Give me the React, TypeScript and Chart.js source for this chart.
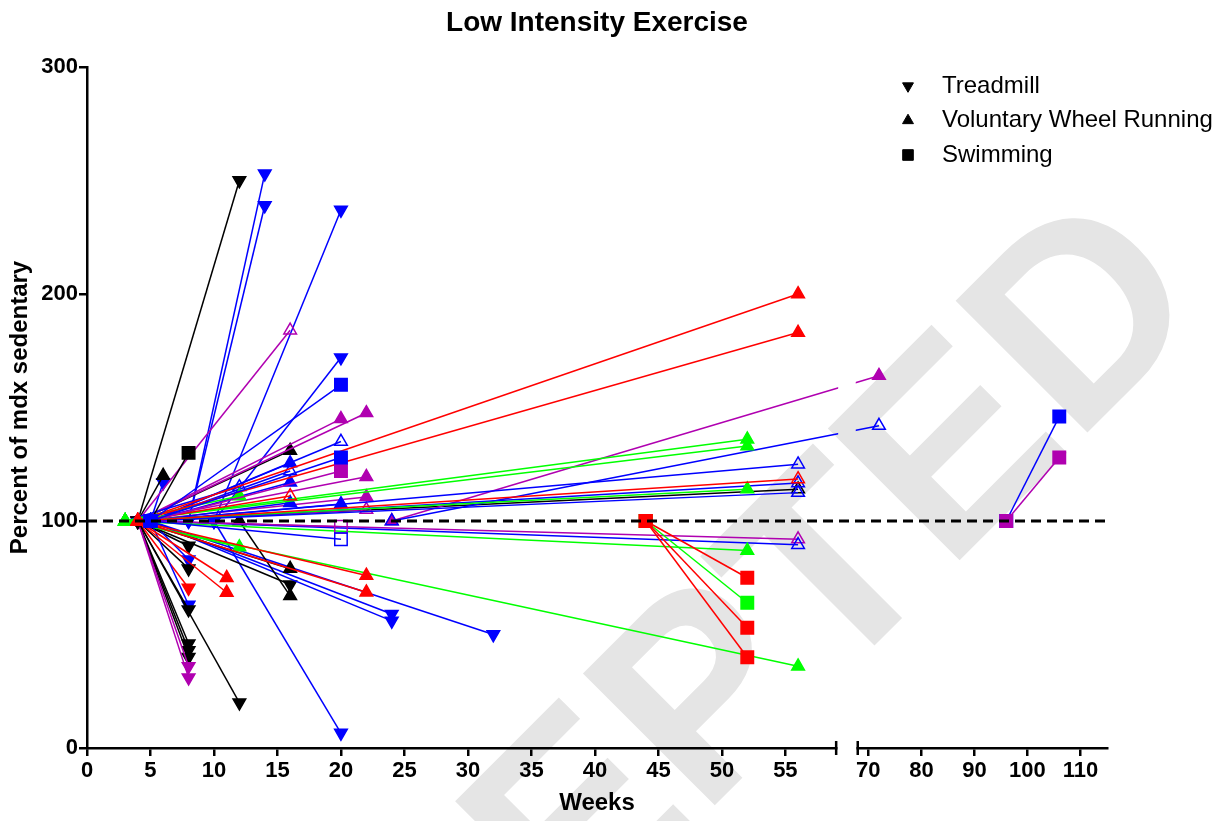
import React, { useEffect, useRef } from "react";
import { Chart, registerables } from "chart.js";
import { drawPoint } from "chart.js/helpers";

Chart.register(...registerables);

// ---------------- DATA ----------------
const chartTitle = "Low Intensity Exercise";
const xTitle = "Weeks";
const yTitle = "Percent of mdx sedentary";
const watermarkText = "ACCEPTED";
const legendLabels = ["Treadmill", "Voluntary Wheel Running", "Swimming"];

const xTickWeeks = [0, 5, 10, 15, 20, 25, 30, 35, 40, 45, 50, 55, 70, 80, 90, 100, 110];
const yTicks = [0, 100, 200, 300];
const baselinePercent = 100;

// study groups: K, B, R, G, M (colour-coded studies)
// Treadmill (down triangles)
const treadmillWeeks = [
  [4, 12], [8, 14], [8, 14], [10, 20], [10, 20], [10, 20], [5, 6], [4, 8],
  [5, 8], [4, 8], [4, 8], [5, 8], [4, 8], [4, 8], [4, 8], [4, 8],
  [4, 8], [4, 8], [4, 12], [4, 16], [5, 24], [5, 24], [5, 32],
];
const treadmillPercent = [
  [100, 250], [100, 253], [100, 239], [100, 237], [100, 172], [100, 6.6], [100, 117], [100, 89],
  [100, 83], [100, 79], [100, 70.5], [100, 63], [100, 61], [100, 46], [100, 43], [100, 40],
  [100, 36], [100, 31], [100, 20], [100, 72], [100, 59], [100, 56], [100, 50],
];
const treadmillStudy = [
  "K", "B", "B", "B", "B", "B", "B", "K",
  "B", "K", "R", "B", "K", "K", "K", "K",
  "M", "M", "K", "K", "B", "B", "B",
];
const treadmillOpen = treadmillStudy.map(() => false);

// Voluntary wheel running (up triangles)
const wheelWeeks = [
  [4, 6], [4, 16], [4, 16], [12, 16], [4, 56], [4, 56], [4, 11], [4, 11],
  [4, 22], [4, 22], [3, 52], [3, 52], [3, 52], [3, 52], [3, 56], [3, 12],
  [3, 12], [4, 22], [4, 20], [4, 22], [4, 22], [24, 72], [5, 20], [5, 16],
  [5, 16], [5, 16],
  [4, 16], [5, 16], [4, 16], [3, 12], [5, 20], [4, 22], [5, 56], [4, 56],
  [5, 56], [4, 56], [5, 56], [4, 56], [5, 56], [24, 72],
];
const wheelPercent = [
  [100, 120], [100, 131], [100, 79], [100, 67], [100, 200], [100, 183], [100, 75], [100, 68.5],
  [100, 76], [100, 68.6], [100, 136], [100, 133], [100, 114], [100, 87], [100, 36], [100, 111],
  [100, 88.5], [100, 147.6], [100, 145], [100, 119.5], [100, 110.6], [100, 164], [100, 107.5], [100, 125.5],
  [100, 117], [100, 108],
  [100, 184], [100, 122], [100, 111], [100, 115], [100, 135], [100, 105], [100, 125], [100, 118.5],
  [100, 116.7], [100, 114], [100, 112.5], [100, 92], [100, 89.5], [100, 142],
];
const wheelStudy = [
  "K", "K", "K", "K", "R", "R", "R", "R",
  "R", "R", "G", "G", "G", "G", "G", "G",
  "G", "M", "M", "M", "M", "M", "B", "B",
  "B", "B",
  "M", "B", "R", "B", "B", "M", "B", "R",
  "B", "K", "B", "M", "B", "B",
];
const wheelOpen = [
  false, false, false, false, false, false, false, false,
  false, false, false, false, false, false, false, false,
  false, false, false, false, false, false, false, false,
  false, false,
  true, true, true, true, true, true, true, true,
  true, true, true, true, true, true,
];

// Swimming (squares)
const swimWeeks = [
  [5, 8], [5, 20], [5, 20], [5, 20], [5, 20], [5, 20],
  [44, 52], [44, 52], [44, 52], [44, 52], [96, 106], [96, 106],
];
const swimPercent = [
  [100, 130], [100, 122], [100, 97.5], [100, 160], [100, 128], [100, 92],
  [100, 75], [100, 64], [100, 53], [100, 40], [100, 146], [100, 128],
];
const swimStudy = ["K", "M", "M", "B", "B", "B", "R", "G", "R", "R", "B", "M"];
const swimOpen = [false, false, true, false, false, true, false, false, false, false, false, false];

// ---------------- STYLE / AXIS BREAK ----------------
const studyColors: Record<string, string> = {
  K: "#000000",
  B: "#0000ff",
  R: "#ff0000",
  G: "#00ff00",
  M: "#b000b0",
};
// stacking order for the wheel-running markers (higher = drawn later / on top)
const wheelLayer: Record<string, number> = { K: 0, M: 1, B: 2, G: 3, R: 4 };
const FONT = '"Liberation Sans", Arial, Helvetica, sans-serif';

const SEG1_END = 59;
const SEG2_START = 68;
const SEG2_END = 115;
const GAP = 1.7;
const SEG2_RATIO = 5.3 / 12.69;
function toAxis(w: number) {
  if (w <= SEG1_END) return w;
  return SEG1_END + GAP + (w - SEG2_START) * SEG2_RATIO;
}

function buildSets(
  weeks: number[][],
  percent: number[][],
  study: string[],
  open: boolean[],
  pointStyle: string,
  rotation: number,
  radius: number,
  name: string
) {
  return weeks.map((ws, i) => {
    const c = studyColors[study[i]];
    return {
      label: name + " " + (i + 1),
      study: study[i],
      data: ws.map((w, j) => ({ x: toAxis(w), y: percent[i][j] })),
      showLine: true,
      borderColor: c,
      backgroundColor: c,
      borderWidth: 1.5,
      pointStyle,
      pointRotation: rotation,
      pointRadius: radius,
      pointBorderColor: c,
      pointBorderWidth: 1.5,
      pointBackgroundColor: open[i] ? "rgba(255,255,255,0)" : c,
      tension: 0,
    };
  });
}

const legendMarkers = [
  { style: "triangle", rotation: 180, radius: 6.3 },
  { style: "triangle", rotation: 0, radius: 6.3 },
  { style: "rect", rotation: 0, radius: 7.5 },
];

const breakPlugin = {
  id: "brokenAxis",
  beforeDraw(chart: any) {
    const { ctx } = chart;
    ctx.save();
    ctx.translate(686, 834);
    ctx.rotate(-Math.PI / 4);
    ctx.font = "bold 271px " + FONT;
    ctx.fillStyle = "#e5e5e5";
    ctx.textAlign = "center";
    ctx.textBaseline = "alphabetic";
    ctx.fillText(watermarkText, 0, 0);
    ctx.restore();
  },
  beforeDatasetDraw(chart: any, args: any) {
    const ds = chart.data.datasets[args.index];
    if (ds.label === "reference") return;
    const { ctx, chartArea } = chart;
    const xs = chart.scales.x;
    const x1 = xs.getPixelForValue(SEG1_END);
    const x2 = xs.getPixelForValue(SEG1_END + GAP);
    ctx.save();
    ctx.beginPath();
    ctx.rect(chartArea.left - 30, chartArea.top - 30, x1 + 2 - (chartArea.left - 30), chartArea.bottom - chartArea.top + 60);
    ctx.rect(x2 - 2, chartArea.top - 30, chartArea.right + 30 - (x2 - 2), chartArea.bottom - chartArea.top + 60);
    ctx.clip();
  },
  afterDatasetDraw(chart: any, args: any) {
    const ds = chart.data.datasets[args.index];
    if (ds.label === "reference") return;
    chart.ctx.restore();
  },
  afterDraw(chart: any) {
    const { ctx, chartArea } = chart;
    const xs = chart.scales.x;
    const x1 = xs.getPixelForValue(SEG1_END);
    const x2 = xs.getPixelForValue(SEG1_END + GAP);
    const y = chartArea.bottom;
    ctx.save();
    ctx.fillStyle = "#ffffff";
    ctx.fillRect(x1 + 1.3, y - 3, x2 - x1 - 2.6, 6);
    ctx.strokeStyle = "#000";
    ctx.lineWidth = 2.5;
    ctx.beginPath();
    ctx.moveTo(x1, y - 7);
    ctx.lineTo(x1, y + 7);
    ctx.moveTo(x2, y - 7);
    ctx.lineTo(x2, y + 7);
    ctx.stroke();

    // legend
    const mx = chartArea.right - 199;
    const tx = chartArea.right - 165;
    legendLabels.forEach((label, i) => {
      const yy = chartArea.top + 19 + i * 34.5;
      const m = legendMarkers[i];
      ctx.fillStyle = "#000";
      ctx.strokeStyle = "#000";
      ctx.lineWidth = 1;
      drawPoint(ctx, { pointStyle: m.style as any, rotation: m.rotation, radius: m.radius, borderWidth: 1 }, mx, yy);
      ctx.font = "24px " + FONT;
      ctx.textAlign = "left";
      ctx.textBaseline = "middle";
      ctx.fillText(label, tx, yy);
    });
    ctx.restore();
  },
};

export default function App() {
  const canvasRef = useRef<HTMLCanvasElement | null>(null);

  useEffect(() => {
    if (!canvasRef.current) return;
    Chart.defaults.font.family = FONT;
    const wheelSets = buildSets(wheelWeeks, wheelPercent, wheelStudy, wheelOpen, "triangle", 0, 7.3, "Wheel")
      .map((s, i) => ({ s, i }))
      .sort((a, b) => wheelLayer[a.s.study] - wheelLayer[b.s.study] || a.i - b.i)
      .map((e) => e.s);
    const sets = [
      ...buildSets(treadmillWeeks, treadmillPercent, treadmillStudy, treadmillOpen, "triangle", 180, 7.3, "Treadmill"),
      ...wheelSets,
      ...buildSets(swimWeeks, swimPercent, swimStudy, swimOpen, "rect", 0, 8.8, "Swimming"),
    ].reverse();
    const reference = {
      label: "reference",
      data: [
        { x: 0, y: baselinePercent },
        { x: toAxis(SEG2_END), y: baselinePercent },
      ],
      showLine: true,
      borderColor: "#000",
      borderWidth: 3,
      borderDash: [10, 6],
      pointRadius: 0,
      order: -1,
    };
    const chart = new Chart(canvasRef.current, {
      type: "scatter",
      data: { datasets: [reference, ...sets] as any },
      options: {
        responsive: false,
        animation: false,
        devicePixelRatio: 1,
        layout: { padding: { left: 0, right: 121, top: 0, bottom: 0 } },
        plugins: {
          legend: { display: false },
          tooltip: { enabled: false },
          title: {
            display: true,
            text: chartTitle,
            color: "#000",
            fullSize: false,
            font: { size: 28, weight: "bold", family: FONT },
            padding: { top: 6, bottom: 27.4 },
          },
        },
        scales: {
          x: {
            type: "linear",
            min: 0,
            max: toAxis(SEG2_END),
            afterBuildTicks: (scale: any) => {
              scale.ticks = xTickWeeks.map((w) => ({ value: toAxis(w) }));
            },
            afterFit: (scale: any) => {
              scale.height = 73;
            },
            ticks: {
              autoSkip: false,
              maxRotation: 0,
              color: "#000",
              padding: 2,
              font: { size: 22, weight: "bold", family: FONT },
              callback: (_v: any, i: number) => String(xTickWeeks[i]),
            },
            grid: { display: true, drawOnChartArea: false, drawTicks: true, tickLength: 8, color: "#000", lineWidth: 2.5 },
            border: { display: true, color: "#000", width: 2.5 },
            title: {
              display: true,
              text: xTitle,
              color: "#000",
              font: { size: 24, weight: "bold", family: FONT },
              padding: { top: 0, bottom: 3 },
            },
          },
          y: {
            type: "linear",
            min: 0,
            max: 300,
            afterBuildTicks: (scale: any) => {
              scale.ticks = yTicks.map((v) => ({ value: v }));
            },
            afterFit: (scale: any) => {
              scale.width = 87;
            },
            ticks: {
              color: "#000",
              padding: 1,
              font: { size: 22, weight: "bold", family: FONT },
            },
            grid: { display: true, drawOnChartArea: false, drawTicks: true, tickLength: 8, color: "#000", lineWidth: 2.5 },
            border: { display: true, color: "#000", width: 2.5 },
            title: {
              display: true,
              text: yTitle,
              color: "#000",
              font: { size: 24, weight: "bold", family: FONT },
              padding: { top: 6, bottom: 0 },
            },
          },
        },
      } as any,
      plugins: [breakPlugin as any],
    });
    return () => chart.destroy();
  }, []);

  return (
    <div style={{ position: "fixed", left: 0, top: 0, width: 1228, height: 821, background: "#fff" }}>
      <canvas ref={canvasRef} width={1228} height={821} style={{ display: "block" }} />
    </div>
  );
}
